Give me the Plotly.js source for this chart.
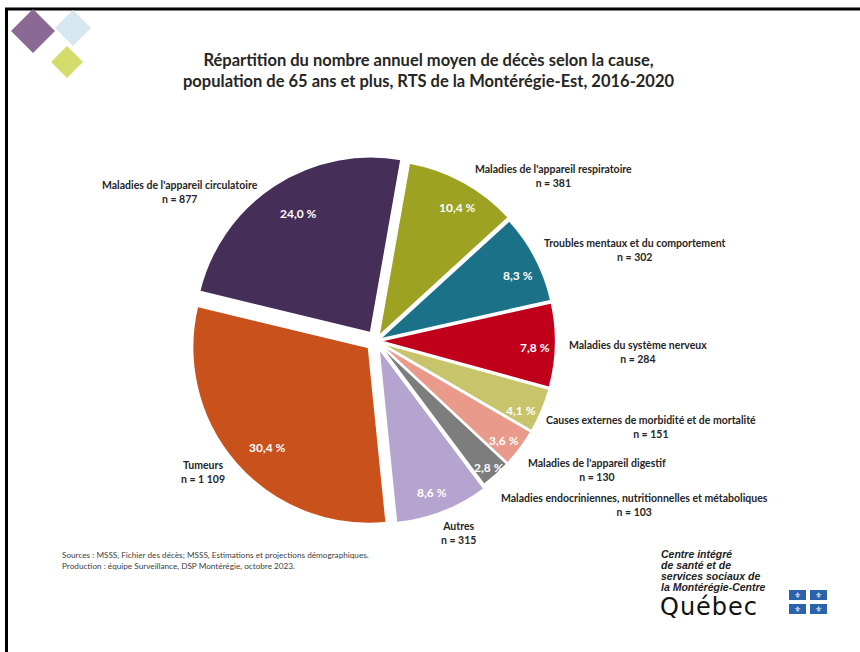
<!DOCTYPE html>
<html><head><meta charset="utf-8">
<script src="https://cdn.plot.ly/plotly-3.0.1.min.js"></script>
<style>html,body{margin:0;padding:0;background:#fff}#chart{width:860px;height:652px}</style>
</head><body><div id="chart"></div>
<script>
// ---- data ----
const categories = ["Maladies de l'appareil respiratoire", "Troubles mentaux et du comportement", "Maladies du système nerveux", "Causes externes de morbidité et de mortalité", "Maladies de l'appareil digestif", "Maladies endocriniennes, nutritionnelles et métaboliques", "Autres", "Tumeurs", "Maladies de l'appareil circulatoire"];
const deaths = [381, 302, 284, 151, 130, 103, 315, 1109, 877];
const countLabels = ["n = 381", "n = 302", "n = 284", "n = 151", "n = 130", "n = 103", "n = 315", "n = 1 109", "n = 877"];
const percentLabels = ["10,4 %", "8,3 %", "7,8 %", "4,1 %", "3,6 %", "2,8 %", "8,6 %", "30,4 %", "24,0 %"];
const titleText = "Répartition du nombre annuel moyen de décès selon la cause,<br>population de 65 ans et plus, RTS de la Montérégie-Est, 2016-2020";
const sourceText = "Sources : MSSS, Fichier des décès; MSSS, Estimations et projections démographiques.<br>Production : équipe Surveillance, DSP Montérégie, octobre 2023.";
const orgLines = ["Centre intégré", "de santé et de", "services sociaux de", "la Montérégie-Centre"];

// ---- styles / layout ----
const sliceColors = ["#9da223", "#1b7288", "#c0001a", "#c8c46c", "#e99a8b", "#7d7d7d", "#b6a4d0", "#c9511c", "#452f58"];
const slicePull = [0.03, 0.02, 0.02, 0.02, 0.02, 0.02, 0.04, 0.055, 0.055];
const W = 860, H = 652;
const px = x => x / W, py = y => 1 - y / H;

const labelPos = [[553,176],[635,250],[638,352],[651,427],[597,470],[634,505],[458,533],[203,472],[180,192]];
const pctPos = [[457,208],[518,275],[535,347],[521,410],[504,440],[489,467],[432,492],[267,447],[298,213]];

const FONT = "Lato, 'Open Sans', sans-serif";
const annotations = [];
categories.forEach((c, i) => {
  annotations.push({xref:'paper', yref:'paper', x:px(labelPos[i][0]), y:py(labelPos[i][1]),
    text:'<b>'+c+'</b><br><b>'+countLabels[i]+'</b>', showarrow:false, align:'center',
    xanchor:'center', yanchor:'middle', font:{family:FONT, size:10.5, color:'#262626'}});
  annotations.push({xref:'paper', yref:'paper', x:px(pctPos[i][0]), y:py(pctPos[i][1]),
    text:'<b>'+percentLabels[i]+'</b>', showarrow:false,
    xanchor:'center', yanchor:'middle', font:{family:FONT, size:12, color:'#ffffff'}});
});
annotations.push({xref:'paper', yref:'paper', x:px(429), y:py(70), text:'<b>'+titleText+'</b>',
  showarrow:false, align:'center', xanchor:'center', yanchor:'middle',
  font:{family:FONT, size:16.5, color:'#262626'}});
annotations.push({xref:'paper', yref:'paper', x:px(60), y:py(560), text:sourceText,
  showarrow:false, align:'left', xanchor:'left', yanchor:'middle',
  font:{family:FONT, size:8.2, color:'#404040'}});
orgLines.forEach((t, i) => {
  annotations.push({xref:'paper', yref:'paper', x:px(659), y:py(554 + 11*i), text:'<b><i>'+t+'</i></b>',
    showarrow:false, align:'left', xanchor:'left', yanchor:'middle',
    font:{family:"'Liberation Sans', Arial, sans-serif", size:10.5, color:'#222'}});
});
annotations.push({xref:'paper', yref:'paper', x:px(658), y:py(607), text:'<span style="letter-spacing:1px">Québec</span>',
  showarrow:false, align:'left', xanchor:'left', yanchor:'middle',
  font:{family:"'DejaVu Sans', sans-serif", size:24, color:'#111'}});

const shapes = [];
// border
shapes.push({type:'line', xref:'paper', yref:'paper', x0:px(5), x1:px(860), y0:py(9), y1:py(9), line:{color:'#000', width:3}});
shapes.push({type:'line', xref:'paper', yref:'paper', x0:px(6.5), x1:px(6.5), y0:py(8), y1:py(652), line:{color:'#000', width:3}});
// top-left logo diamonds
function diamond(cx, cy, h, col) {
  return {type:'path', xref:'paper', yref:'paper',
    path:`M ${px(cx)} ${py(cy-h)} L ${px(cx+h)} ${py(cy)} L ${px(cx)} ${py(cy+h)} L ${px(cx-h)} ${py(cy)} Z`,
    fillcolor:col, line:{width:0}, layer:'above'};
}
shapes.push(diamond(73, 28, 18, '#d6e7ef'));
shapes.push(diamond(33, 31, 22, '#8a6a95'));
shapes.push(diamond(67, 62, 16, '#d4dd6c'));
// Quebec flag quadrants
const flagCells = [[789,590],[810,590],[789,604],[810,604]];
flagCells.forEach(([x,y]) => {
  shapes.push({type:'rect', xref:'paper', yref:'paper', x0:px(x), x1:px(x+17), y0:py(y), y1:py(y+10),
    fillcolor:'#2a63ab', line:{width:0}});
  annotations.push({xref:'paper', yref:'paper', x:px(x+8.5), y:py(y+5), text:'⚜', showarrow:false,
    xanchor:'center', yanchor:'middle', font:{family:"'DejaVu Sans'", size:8, color:'#fff'}});
});

// pie domain (center ~ (376,341))
const cx = 376, cy = 341, half = 186;
const data = [{
  type:'pie', labels:categories, values:deaths, sort:false, direction:'clockwise', rotation:10,
  pull:slicePull, textinfo:'none', hoverinfo:'label+value+percent',
  marker:{colors:sliceColors, line:{color:'#ffffff', width:2}},
  domain:{x:[px(cx-half), px(cx+half)], y:[py(cy+half), py(cy-half)]}
}];
const layout = {
  width:W, height:H, margin:{l:0,r:0,t:0,b:0}, showlegend:false,
  paper_bgcolor:'#ffffff', plot_bgcolor:'#ffffff',
  annotations, shapes, font:{family:FONT}
};
Plotly.newPlot('chart', data, layout, {displayModeBar:false, staticPlot:true});
</script></body></html>
